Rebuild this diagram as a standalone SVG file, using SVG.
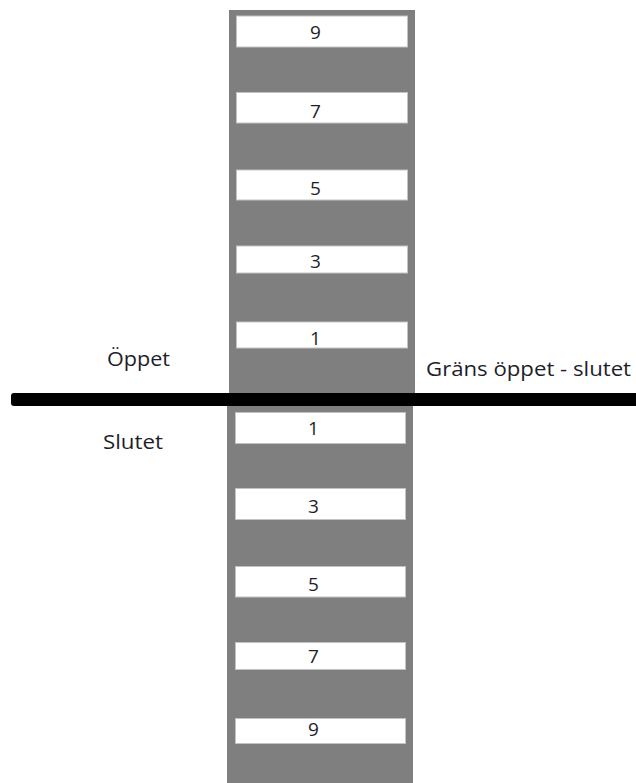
<svg xmlns="http://www.w3.org/2000/svg" width="636" height="783" viewBox="0 0 636 783">
<style>
.col{fill:#7f7f7f}
.box{fill:#ffffff;stroke:#c3c3c3;stroke-width:1}
.num{font-family:"Open Sans","Liberation Sans",sans-serif;font-size:19px;fill:#1e1e2a;text-anchor:middle}
.lbl{font-family:"Open Sans","Liberation Sans",sans-serif;font-size:20px;fill:#1e1e2a}
</style>
<rect width="636" height="783" fill="#ffffff"/>
<g id="column-open">
<rect class="col" x="229" y="10" width="186" height="385"/>
</g>
<g id="column-closed">
<rect class="col" x="227" y="404" width="186" height="379"/>
</g>
<g id="open-9"><rect class="box" x="236.5" y="16" width="171" height="31"/><text class="num" x="315.5" y="39">9</text></g>
<g id="open-7"><rect class="box" x="236.5" y="92.5" width="171" height="30.5"/><text class="num" x="315.5" y="118">7</text></g>
<g id="open-5"><rect class="box" x="236.5" y="170" width="171" height="30"/><text class="num" x="315.5" y="195">5</text></g>
<g id="open-3"><rect class="box" x="236.5" y="246" width="171" height="27"/><text class="num" x="315.5" y="268">3</text></g>
<g id="open-1"><rect class="box" x="236.5" y="322" width="171" height="26"/><text class="num" x="315.5" y="345">1</text></g>
<g id="closed-1"><rect class="box" x="235.5" y="412.5" width="170" height="31"/><text class="num" x="313.5" y="435">1</text></g>
<g id="closed-3"><rect class="box" x="235.5" y="488.5" width="170" height="31"/><text class="num" x="313.5" y="512.5">3</text></g>
<g id="closed-5"><rect class="box" x="235.5" y="566.5" width="170" height="30.5"/><text class="num" x="313.5" y="590.5">5</text></g>
<g id="closed-7"><rect class="box" x="235.5" y="642.5" width="170" height="27"/><text class="num" x="313.5" y="663">7</text></g>
<g id="closed-9"><rect class="box" x="235.5" y="718.5" width="170" height="25"/><text class="num" x="313.5" y="736">9</text></g>
<g id="connectors">
<rect x="11" y="393" width="630" height="13" rx="3" fill="#000000"/>
</g>
<g id="labels">
<text class="lbl" x="107" y="366" textLength="63" lengthAdjust="spacingAndGlyphs">Öppet</text>
<text class="lbl" x="103" y="449" textLength="60" lengthAdjust="spacingAndGlyphs">Slutet</text>
<text class="lbl" x="426" y="376" textLength="205" lengthAdjust="spacingAndGlyphs">Gräns öppet - slutet</text>
</g>
</svg>
